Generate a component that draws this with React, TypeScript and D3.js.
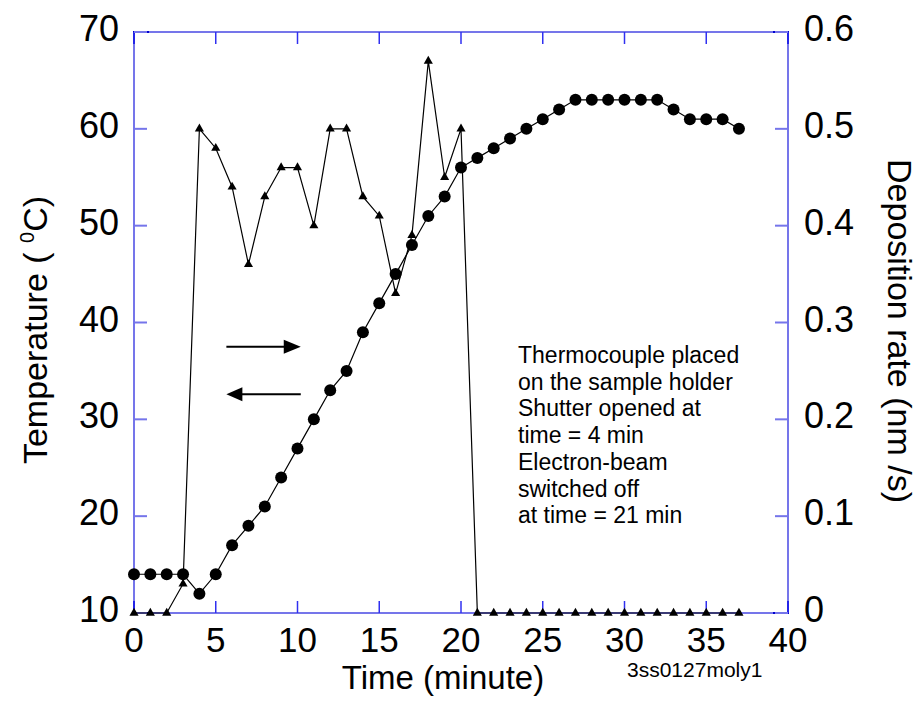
import React from "react";
import * as d3 from "d3";

const time = [0,1,2,3,4,5,6,7,8,9,10,11,12,13,14,15,16,17,18,19,20,21,22,23,24,25,26,27,28,29,30,31,32,33,34,35,36,37];
const temperature = [14,14,14,14,12,14,17,19,21,24,27,30,33,35,39,42,45,48,51,53,56,57,58,59,60,61,62,63,63,63,63,63,63,62,61,61,61,60];
const depositionRate = [0,0,0,0.03,0.50,0.48,0.44,0.36,0.43,0.46,0.46,0.40,0.50,0.50,0.43,0.41,0.33,0.39,0.57,0.45,0.50,0,0,0,0,0,0,0,0,0,0,0,0,0,0,0,0,0];
const xTicks = [0,5,10,15,20,25,30,35,40];
const tempTicks = [10,20,30,40,50,60,70];
const rateTicks = [0,0.1,0.2,0.3,0.4,0.5,0.6];
const noteLines = [
  "Thermocouple placed",
  "on the sample holder",
  "Shutter opened at",
  "time = 4 min",
  "Electron-beam",
  "switched off",
  "at time = 21 min",
];

const W = 919, H = 702;
const L = 134, R = 788, T = 32, B = 613;
const FONT = "'Liberation Sans', Arial, sans-serif";
const AXIS = "#7575ea";
const DARK = "#0000d0";

export default function App() {
  const x = d3.scaleLinear().domain([0, 40]).range([L, R]);
  const yT = d3.scaleLinear().domain([10, 70]).range([B, T]);
  const yR = d3.scaleLinear().domain([0, 0.6]).range([B, T]);

  const tempLine = d3.line<number>().x((_, i) => x(time[i])).y((d) => yT(d))(temperature) || "";
  const rateLine = d3.line<number>().x((_, i) => x(time[i])).y((d) => yR(d))(depositionRate) || "";
  const tri = d3.symbol().type(d3.symbolTriangle).size(36)() || "";

  // arrows (annotation)
  const a1y = yT(37.5), a2y = yT(32.6);
  const ax0 = x(5.65), ax1 = x(10.2);

  return (
    <svg width={W} height={H} style={{ position: "absolute", left: 0, top: 0, background: "#fff" }} fontFamily={FONT}>
      <rect x={0} y={0} width={W} height={H} fill="#fff" />
      {/* frame */}
      <rect x={L} y={T} width={R - L} height={B - T} fill="none" stroke={AXIS} strokeWidth={2} />
      {/* dark corner segments */}
      <path d={`M${L},${T + 12}V${T}H${L + 15} M${R - 15},${T}H${R}V${T + 12} M${L},${B - 12}V${B}H${L + 15} M${R - 15},${B}H${R}V${B - 12}`} fill="none" stroke={DARK} strokeWidth={2} />
      {/* x ticks */}
      {xTicks.map((t) => (
        <g key={"xt" + t}>
          <line x1={x(t)} x2={x(t)} y1={B} y2={B - 12} stroke="#3030f0" strokeWidth={1.5} />
          <line x1={x(t)} x2={x(t)} y1={T} y2={T + 12} stroke="#3030f0" strokeWidth={1.5} />
          <text x={x(t)} y={B + 39} fontSize={35} textAnchor="middle" fill="#000">{t}</text>
        </g>
      ))}
      {/* left ticks */}
      {tempTicks.map((t) => (
        <g key={"yt" + t}>
          <line x1={L} x2={L + 13} y1={yT(t)} y2={yT(t)} stroke={AXIS} strokeWidth={2} />
          <text x={119} y={yT(t) + 9} fontSize={36} textAnchor="end" fill="#000">{t}</text>
        </g>
      ))}
      {/* right ticks */}
      {rateTicks.map((t) => (
        <g key={"yr" + t}>
          <line x1={R} x2={R - 13} y1={yR(t)} y2={yR(t)} stroke={AXIS} strokeWidth={2} />
          <text x={804} y={yR(t) + 9} fontSize={36} textAnchor="start" fill="#000">{t === 0 ? "0" : t.toFixed(1)}</text>
        </g>
      ))}
      {/* series */}
      <path d={rateLine} fill="none" stroke="#000" strokeWidth={1.2} />
      <path d={tempLine} fill="none" stroke="#000" strokeWidth={1.2} />
      {depositionRate.map((d, i) => (
        <path key={"tr" + i} d={tri} transform={`translate(${x(time[i])},${yR(d)})`} fill="#000" />
      ))}
      {temperature.map((d, i) => (
        <circle key={"c" + i} cx={x(time[i])} cy={yT(d)} r={6} fill="#000" />
      ))}
      {/* arrows */}
      <line x1={ax0} x2={ax1 - 16} y1={a1y} y2={a1y} stroke="#000" strokeWidth={2} />
      <path d={`M${ax1},${a1y}L${ax1 - 17},${a1y - 7}L${ax1 - 17},${a1y + 7}Z`} fill="#000" />
      <line x1={ax0 + 15} x2={ax1} y1={a2y} y2={a2y} stroke="#000" strokeWidth={2} />
      <path d={`M${ax0},${a2y}L${ax0 + 16},${a2y - 7}L${ax0 + 16},${a2y + 7}Z`} fill="#000" />
      {/* note */}
      <text fontSize={23} fill="#000">
        {noteLines.map((s, i) => (
          <tspan key={i} x={518} y={363 + i * 26.7}>{s}</tspan>
        ))}
      </text>
      {/* axis titles */}
      <text x={443} y={689} fontSize={33} textAnchor="middle" fill="#000">Time (minute)</text>
      <text transform={`translate(47,330) rotate(-90)`} fontSize={34} textAnchor="middle" fill="#000">
        Temperature ( <tspan fontSize={20} dy={-13}>0</tspan><tspan dy={13}>C)</tspan>
      </text>
      <text transform={`translate(888,331) rotate(90)`} fontSize={34} textAnchor="middle" fill="#000">Deposition rate (nm /s)</text>
      <text x={627} y={677} fontSize={21} fill="#000">3ss0127moly1</text>
    </svg>
  );
}
